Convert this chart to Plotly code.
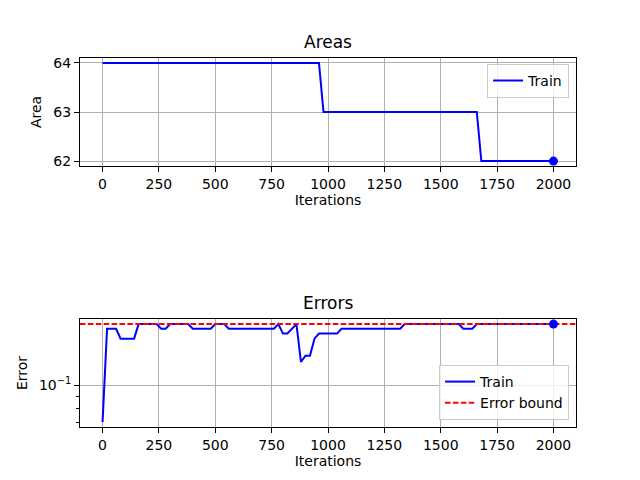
import plotly.graph_objects as go

# iterations are logged every 20 steps
iterations = list(range(0, 2001, 20))

areas = [
    64, 64, 64, 64, 64, 64, 64, 64, 64, 64,   # 0..180
    64, 64, 64, 64, 64, 64, 64, 64, 64, 64,   # 200..380
    64, 64, 64, 64, 64, 64, 64, 64, 64, 64,   # 400..580
    64, 64, 64, 64, 64, 64, 64, 64, 64, 64,   # 600..780
    64, 64, 64, 64, 64, 64, 64, 64, 64, 63,   # 800..980
    63, 63, 63, 63, 63, 63, 63, 63, 63, 63,   # 1000..1180
    63, 63, 63, 63, 63, 63, 63, 63, 63, 63,   # 1200..1380
    63, 63, 63, 63, 63, 63, 63, 63, 63, 63,   # 1400..1580
    63, 63, 63, 63, 62, 62, 62, 62, 62, 62,   # 1600..1780
    62, 62, 62, 62, 62, 62, 62, 62, 62, 62,   # 1800..1980
    62,                                       # 2000
]

errors = [
    0.0703, 0.1719, 0.1719, 0.1719, 0.1563, 0.1563, 0.1563, 0.1563, 0.1797, 0.1797,  # 0..180
    0.1797, 0.1797, 0.1797, 0.1719, 0.1719, 0.1797, 0.1797, 0.1797, 0.1797, 0.1797,  # 200..380
    0.1719, 0.1719, 0.1719, 0.1719, 0.1719, 0.1797, 0.1797, 0.1797, 0.1719, 0.1719,  # 400..580
    0.1719, 0.1719, 0.1719, 0.1719, 0.1719, 0.1719, 0.1719, 0.1719, 0.1719, 0.1797,  # 600..780
    0.1641, 0.1641, 0.1719, 0.1797, 0.1250, 0.1328, 0.1328, 0.1563, 0.1641, 0.1641,  # 800..980
    0.1641, 0.1641, 0.1641, 0.1719, 0.1719, 0.1719, 0.1719, 0.1719, 0.1719, 0.1719,  # 1000..1180
    0.1719, 0.1719, 0.1719, 0.1719, 0.1719, 0.1719, 0.1719, 0.1797, 0.1797, 0.1797,  # 1200..1380
    0.1797, 0.1797, 0.1797, 0.1797, 0.1797, 0.1797, 0.1797, 0.1797, 0.1797, 0.1797,  # 1400..1580
    0.1719, 0.1719, 0.1719, 0.1797, 0.1797, 0.1797, 0.1797, 0.1797, 0.1797, 0.1797,  # 1600..1780
    0.1797, 0.1797, 0.1797, 0.1797, 0.1797, 0.1797, 0.1797, 0.1797, 0.1797, 0.1797,  # 1800..1980
    0.1797,                                                                          # 2000
]

error_bound = 0.18

x_ticks = [0, 250, 500, 750, 1000, 1250, 1500, 1750, 2000]
area_ticks = [62, 63, 64]
X_RANGE = [-100, 2100]

FONT = "DejaVu Sans"
GRID = "#b0b0b0"

fig = go.Figure()

# ---- top: areas ----
fig.add_trace(go.Scatter(x=iterations, y=areas, mode="lines", name="Train",
                         line=dict(color="blue", width=2), xaxis="x", yaxis="y",
                         legend="legend"))
fig.add_trace(go.Scatter(x=[iterations[-1]], y=[areas[-1]], mode="markers",
                         marker=dict(color="blue", size=9), showlegend=False,
                         xaxis="x", yaxis="y"))

# ---- bottom: errors ----
fig.add_trace(go.Scatter(x=iterations, y=errors, mode="lines", name="Train",
                         line=dict(color="blue", width=2), xaxis="x2", yaxis="y2",
                         legend="legend2"))
fig.add_trace(go.Scatter(x=X_RANGE, y=[error_bound, error_bound], mode="lines",
                         name="Error bound",
                         line=dict(color="red", width=2, dash="5.5px,2.4px"),
                         xaxis="x2", yaxis="y2", legend="legend2"))
fig.add_trace(go.Scatter(x=[iterations[-1]], y=[errors[-1]], mode="markers",
                         marker=dict(color="blue", size=9), showlegend=False,
                         xaxis="x2", yaxis="y2"))

axis_common = dict(showline=True, mirror=True, linecolor="black", linewidth=1,
                   ticks="outside", ticklen=5, tickcolor="black", tickwidth=1,
                   showgrid=True, gridcolor=GRID, gridwidth=1, zeroline=False,
                   tickfont=dict(size=14, color="black"))

legend_common = dict(bgcolor="rgba(255,255,255,0.8)", bordercolor="#cccccc",
                     borderwidth=1, font=dict(size=14, color="black"),
                     xanchor="right", x=0.986, tracegroupgap=0, itemwidth=30)

# the page body adds an 8px offset, so margins are shifted to compensate
fig.update_layout(
    width=640, height=480,
    margin=dict(l=72, r=72, t=50, b=61),
    paper_bgcolor="white", plot_bgcolor="white",
    font=dict(family=FONT, size=14, color="black"),
    xaxis=dict(domain=[0, 1], range=X_RANGE, tickvals=x_ticks, anchor="y",
               title=dict(text="Iterations", standoff=4, font=dict(size=14)),
               **axis_common),
    yaxis=dict(domain=[0.7073, 1], range=[61.9, 64.1], tickvals=area_ticks, anchor="x",
               title=dict(text="Area", standoff=8, font=dict(size=14)),
               **axis_common),
    xaxis2=dict(domain=[0, 1], range=X_RANGE, tickvals=x_ticks, anchor="y2",
                title=dict(text="Iterations", standoff=4, font=dict(size=14)),
                **axis_common),
    yaxis2=dict(domain=[0, 0.2927], type="log", range=[-1.1735, -0.7243],
                tickvals=[0.1], ticktext=["10<sup>−1</sup>"], anchor="x2",
                minor=dict(tickvals=[0.07, 0.08, 0.09], ticks="outside", ticklen=3,
                           tickcolor="black", showgrid=False),
                title=dict(text="Error", standoff=8, font=dict(size=14)),
                **axis_common),
    legend=dict(yanchor="top", y=0.984, **legend_common),
    legend2=dict(yanchor="bottom", y=0.019, **legend_common),
    annotations=[
        dict(text="Areas", xref="paper", yref="paper", x=0.5, y=1, yanchor="bottom",
             yshift=4, showarrow=False, font=dict(size=17)),
        dict(text="Errors", xref="paper", yref="paper", x=0.5, y=0.2927, yanchor="bottom",
             yshift=4, showarrow=False, font=dict(size=17)),
    ],
)

fig.write_html("out.html")
